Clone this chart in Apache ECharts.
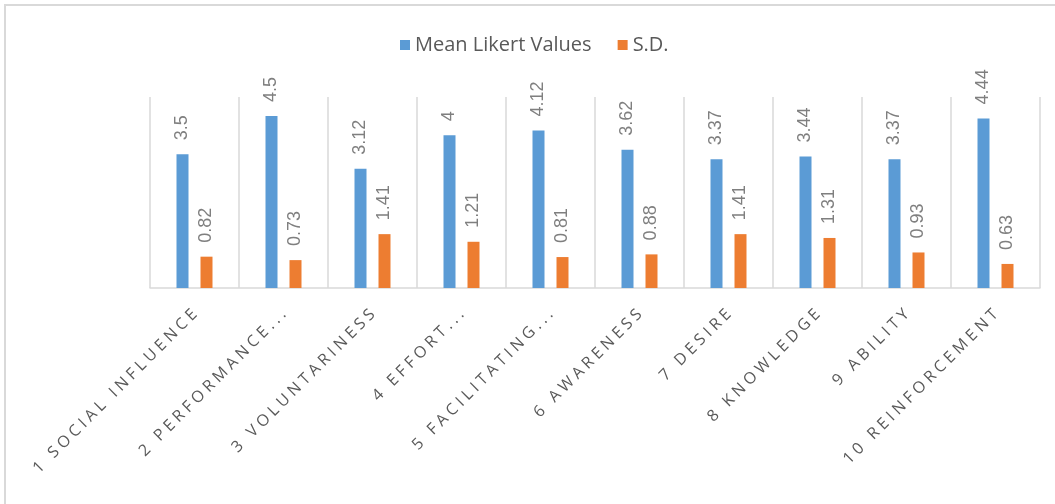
<!DOCTYPE html>
<html>
<head>
<meta charset="utf-8">
<script src="https://cdn.jsdelivr.net/npm/echarts@6/dist/echarts.min.js"></script>
<style>
  html, body { margin: 0; padding: 0; background: #fff; }
  #chart { width: 1055px; height: 504px; }
  .frame {
    position: absolute; left: 4px; top: 4px; width: 1060px; height: 510px;
    border-top: 2px solid #d9d9d9; border-left: 2px solid #d9d9d9;
    pointer-events: none;
  }
</style>
</head>
<body>
<div id="chart"></div>
<div class="frame"></div>
<script>
// categories + values
var categories = [
  '1 SOCIAL INFLUENCE', '2 PERFORMANCE...', '3 VOLUNTARINESS', '4 EFFORT...',
  '5 FACILITATING...', '6 AWARENESS', '7 DESIRE', '8 KNOWLEDGE', '9 ABILITY',
  '10 REINFORCEMENT'
];
var meanValues = [3.5, 4.5, 3.12, 4, 4.12, 3.62, 3.37, 3.44, 3.37, 4.44];
var sdValues = [0.82, 0.73, 1.41, 1.21, 0.81, 0.88, 1.41, 1.31, 0.93, 0.63];

var myChart = echarts.init(document.getElementById('chart'));

var barLabel = {
  show: true,
  position: 'top',
  rotate: 90,
  align: 'left',
  verticalAlign: 'middle',
  distance: 14,
  color: '#7f7f7f',
  fontSize: 18,
  fontFamily: 'Liberation Sans'
};

var option = {
  animation: false,
  textStyle: { fontFamily: 'Open Sans' },
  legend: {
    left: 395,
    top: 30,
    itemWidth: 10,
    itemHeight: 10,
    itemGap: 26,
    icon: 'rect',
    textStyle: { color: '#595959', fontSize: 20, fontFamily: 'Open Sans' },
    data: ['Mean Likert Values', 'S.D.']
  },
  grid: { left: 150, right: 15, top: 97, bottom: 216 },
  xAxis: {
    type: 'category',
    data: categories,
    axisLine: { lineStyle: { color: '#d9d9d9', width: 1.5 } },
    axisTick: { show: false },
    splitLine: { show: true, lineStyle: { color: '#d9d9d9', width: 1.5 } },
    axisLabel: {
      interval: 0,
      rotate: 45,
      margin: 24,
      color: '#595959',
      fontSize: 16,
      fontFamily: 'Open Sans',
      // Excel style expanded letter spacing
      formatter: function (v) { return v.split('').join('\u2005'); }
    }
  },
  yAxis: {
    type: 'value',
    min: 0,
    max: 5,
    show: false
  },
  series: [
    {
      name: 'Mean Likert Values',
      type: 'bar',
      barWidth: 12,
      barGap: '100%',
      itemStyle: { color: '#5b9bd5' },
      label: barLabel,
      data: meanValues
    },
    {
      name: 'S.D.',
      type: 'bar',
      barWidth: 12,
      itemStyle: { color: '#ed7d31' },
      label: barLabel,
      data: sdValues
    }
  ]
};

myChart.setOption(option);
</script>
</body>
</html>
